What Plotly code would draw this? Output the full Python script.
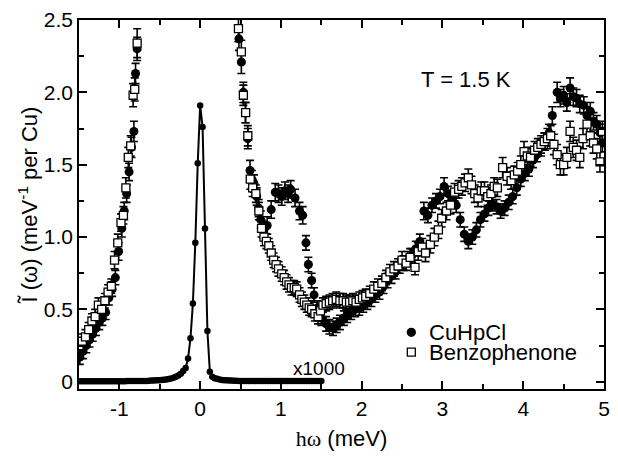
import numpy as np
import plotly.graph_objects as go

# ---- CuHpCl (filled circles) ----
cu_x = [-1.49, -1.45, -1.41, -1.37, -1.33, -1.29, -1.25, -1.21, -1.17, -1.13,
        -1.09, -1.05, -1.01, -0.97, -0.94, -0.91, -0.88, -0.85, -0.82, -0.80, -0.78,
        0.48, 0.51, 0.535, 0.56, 0.59, 0.617, 0.64, 0.666, 0.70, 0.725,
        0.75, 0.79, 0.83, 0.88, 0.93, 0.97, 1.01, 1.05, 1.09, 1.12,
        1.175, 1.23, 1.27, 1.31, 1.34, 1.38, 1.41, 1.45, 1.50, 1.56,
        1.60, 1.645, 1.69, 1.73, 1.78, 1.82, 1.87, 1.92, 1.97, 2.02,
        2.07, 2.12, 2.17, 2.22, 2.27, 2.32, 2.37, 2.42, 2.47, 2.52,
        2.57, 2.62, 2.67, 2.72, 2.77, 2.82, 2.87, 2.92, 2.97, 3.02,
        3.07, 3.12, 3.17, 3.22, 3.27, 3.32, 3.37, 3.42, 3.47, 3.52,
        3.57, 3.62, 3.67, 3.72, 3.77, 3.82, 3.87, 3.92, 3.97, 4.02,
        4.07, 4.12, 4.17, 4.22, 4.27, 4.32, 4.36, 4.42, 4.46, 4.50,
        4.54, 4.58, 4.62, 4.66, 4.70, 4.75, 4.79, 4.83, 4.87, 4.91,
        4.95, 4.98]
cu_y = [0.17, 0.21, 0.25, 0.29, 0.33, 0.37, 0.41, 0.44, 0.48, 0.58,
        0.64, 0.72, 0.90, 1.06, 1.18, 1.30, 1.45, 1.62, 1.73, 2.13, 2.30,
        2.37, 2.21, 2.00, 1.86, 1.68, 1.46, 1.40, 1.37, 1.28, 1.20,
        1.12, 1.05, 1.08, 1.19, 1.31, 1.30, 1.28, 1.32, 1.30, 1.33,
        1.27, 1.18, 1.15, 0.96, 0.81, 0.70, 0.60, 0.51, 0.44, 0.40,
        0.38, 0.37, 0.39, 0.41, 0.44, 0.46, 0.48, 0.50, 0.51, 0.53,
        0.55, 0.57, 0.60, 0.62, 0.66, 0.70, 0.73, 0.76, 0.80, 0.82,
        0.85, 0.87, 0.92, 0.97, 1.18, 1.15, 1.22, 1.25, 1.28, 1.35,
        1.30, 1.27, 1.22, 1.12, 1.02, 0.97, 1.00, 1.05, 1.12, 1.16,
        1.20, 1.23, 1.21, 1.18, 1.20, 1.24, 1.28, 1.34, 1.40, 1.44,
        1.47, 1.53, 1.57, 1.62, 1.66, 1.72, 1.84, 2.00, 1.96, 1.98,
        1.93, 2.03, 1.97, 1.96, 1.92, 1.91, 1.84, 1.87, 1.80, 1.78,
        1.72, 1.65]
cu_err = [0.05, 0.05, 0.05, 0.05, 0.05, 0.05, 0.05, 0.05, 0.05, 0.05,
          0.05, 0.05, 0.06, 0.06, 0.06, 0.06, 0.06, 0.07, 0.07, 0.07, 0.08,
          0.08, 0.08, 0.07, 0.07, 0.07, 0.07, 0.06, 0.06, 0.06, 0.06,
          0.06, 0.06, 0.06, 0.06, 0.06, 0.06, 0.06, 0.06, 0.06, 0.06,
          0.06, 0.06, 0.06, 0.05, 0.05, 0.05, 0.05, 0.05, 0.05, 0.05,
          0.05, 0.05, 0.05, 0.05, 0.05, 0.05, 0.05, 0.05, 0.05, 0.05,
          0.05, 0.05, 0.05, 0.05, 0.05, 0.05, 0.05, 0.05, 0.05, 0.05,
          0.05, 0.05, 0.05, 0.05, 0.06, 0.05, 0.05, 0.05, 0.05, 0.06,
          0.05, 0.05, 0.05, 0.05, 0.05, 0.05, 0.05, 0.05, 0.05, 0.05,
          0.05, 0.05, 0.05, 0.05, 0.05, 0.05, 0.05, 0.05, 0.05, 0.05,
          0.05, 0.05, 0.05, 0.06, 0.06, 0.06, 0.06, 0.07, 0.06, 0.06,
          0.06, 0.07, 0.06, 0.06, 0.06, 0.06, 0.06, 0.06, 0.06, 0.06,
          0.06, 0.06]

# ---- Benzophenone (open squares) ----
bz_x = [-1.50, -1.46, -1.42, -1.38, -1.34, -1.30, -1.26, -1.22, -1.18, -1.14,
        -1.10, -1.06, -1.02, -0.98, -0.95, -0.92, -0.89, -0.86, -0.83, -0.81, -0.78,
        0.474, 0.51, 0.535, 0.563, 0.59, 0.62, 0.65, 0.69, 0.727, 0.76,
        0.79, 0.82, 0.85, 0.88, 0.91, 0.94, 0.97, 1.01, 1.04, 1.07,
        1.10, 1.13, 1.165, 1.195, 1.23, 1.26, 1.29, 1.32, 1.35, 1.38,
        1.42, 1.46, 1.49, 1.52, 1.56, 1.60, 1.64, 1.685, 1.73, 1.77,
        1.81, 1.85, 1.89, 1.93, 1.97, 2.01, 2.05, 2.10, 2.15, 2.20,
        2.25, 2.30, 2.35, 2.40, 2.45, 2.50, 2.55, 2.60, 2.66, 2.70,
        2.75, 2.79, 2.85, 2.90, 2.95, 2.99, 3.05, 3.10, 3.15, 3.20,
        3.24, 3.28, 3.32, 3.36, 3.40, 3.44, 3.48, 3.52, 3.56, 3.60,
        3.64, 3.68, 3.745, 3.80, 3.85, 3.89, 3.93, 3.97, 4.01, 4.05,
        4.09, 4.14, 4.18, 4.22, 4.26, 4.30, 4.34, 4.38, 4.42, 4.46,
        4.50, 4.54, 4.58, 4.62, 4.66, 4.70, 4.74, 4.79, 4.83, 4.87,
        4.91, 4.95, 4.98]
bz_y = [0.25, 0.28, 0.31, 0.36, 0.42, 0.45, 0.53, 0.50, 0.56, 0.62,
        0.66, 0.84, 0.96, 1.10, 1.15, 1.34, 1.55, 1.63, 1.98, 2.02, 2.34,
        2.44, 2.28, 1.98, 1.86, 1.70, 1.40, 1.34, 1.30, 1.18, 1.06,
        1.00, 0.97, 0.94, 0.89, 0.84, 0.81, 0.78, 0.745, 0.72, 0.69,
        0.67, 0.65, 0.65, 0.64, 0.60, 0.57, 0.55, 0.53, 0.51, 0.50,
        0.47, 0.45, 0.49, 0.53, 0.54, 0.55, 0.56, 0.57, 0.56, 0.56,
        0.55, 0.55, 0.56, 0.55, 0.57, 0.58, 0.59, 0.61, 0.64, 0.66,
        0.68, 0.72, 0.76, 0.78, 0.80, 0.84, 0.82, 0.86, 0.79, 0.90,
        0.93, 0.89, 0.95, 1.00, 1.05, 1.13, 1.18, 1.22, 1.31, 1.33,
        1.35, 1.375, 1.41, 1.36, 1.30, 1.27, 1.32, 1.32, 1.28, 1.30,
        1.35, 1.34, 1.48, 1.42, 1.39, 1.43, 1.455, 1.50, 1.59, 1.56,
        1.55, 1.60, 1.62, 1.64, 1.66, 1.68, 1.70, 1.64, 1.57, 1.50,
        1.50, 1.55, 1.73, 1.62, 1.60, 1.55, 1.68, 1.78, 1.70, 1.65,
        1.61, 1.52, 1.73]
bz_err = [0.05, 0.05, 0.05, 0.05, 0.05, 0.05, 0.05, 0.05, 0.05, 0.05,
          0.05, 0.06, 0.06, 0.06, 0.06, 0.07, 0.07, 0.07, 0.08, 0.08, 0.10,
          0.09, 0.08, 0.07, 0.07, 0.07, 0.07, 0.06, 0.06, 0.06, 0.06,
          0.06, 0.05, 0.05, 0.05, 0.05, 0.05, 0.05, 0.05, 0.05, 0.05,
          0.05, 0.05, 0.05, 0.05, 0.05, 0.05, 0.05, 0.05, 0.05, 0.05,
          0.05, 0.05, 0.05, 0.05, 0.05, 0.05, 0.05, 0.05, 0.05, 0.05,
          0.05, 0.05, 0.05, 0.05, 0.05, 0.05, 0.05, 0.05, 0.05, 0.05,
          0.05, 0.05, 0.05, 0.05, 0.05, 0.06, 0.05, 0.06, 0.05, 0.06,
          0.06, 0.06, 0.06, 0.06, 0.06, 0.06, 0.06, 0.06, 0.06, 0.06,
          0.06, 0.06, 0.06, 0.06, 0.06, 0.06, 0.06, 0.06, 0.06, 0.06,
          0.06, 0.06, 0.07, 0.06, 0.06, 0.06, 0.06, 0.06, 0.07, 0.06,
          0.06, 0.06, 0.06, 0.06, 0.06, 0.07, 0.07, 0.07, 0.07, 0.07,
          0.07, 0.07, 0.07, 0.07, 0.07, 0.07, 0.07, 0.07, 0.07, 0.07,
          0.07, 0.07, 0.07]

# ---- elastic resolution line (scaled x1000), energy grid step 0.03 meV ----
res_x = np.round(np.arange(-1.5, 1.5001, 0.03), 2)
res_y = [0.004, 0.004, 0.004, 0.004, 0.004, 0.004, 0.004, 0.004, 0.004, 0.004,
         0.004, 0.004, 0.004, 0.004, 0.004, 0.004, 0.004, 0.004, 0.004, 0.004,
         0.005, 0.005, 0.005, 0.005, 0.005, 0.005, 0.005, 0.005, 0.006, 0.007,
         0.008, 0.009, 0.010, 0.011, 0.012, 0.014, 0.016, 0.019, 0.023, 0.028,
         0.034, 0.043, 0.056, 0.075, 0.095, 0.16, 0.30, 0.54, 0.96, 1.51,
         1.91, 1.76, 1.06, 0.35, 0.07, 0.035, 0.025, 0.020, 0.016, 0.013,
         0.011, 0.010, 0.009, 0.008, 0.007, 0.007, 0.006, 0.005, 0.005, 0.005,
         0.005, 0.005, 0.005, 0.005, 0.005, 0.005, 0.005, 0.005, 0.005, 0.005,
         0.005, 0.005, 0.005, 0.005, 0.005, 0.005, 0.005, 0.005, 0.005, 0.005,
         0.005, 0.005, 0.005, 0.005, 0.005, 0.005, 0.005, 0.005, 0.005, 0.005,
         0.005]

x_ticks = [-1, 0, 1, 2, 3, 4, 5]
y_ticks = [0, 0.5, 1.0, 1.5, 2.0, 2.5]
y_tick_text = ["0", "0.5", "1.0", "1.5", "2.0", "2.5"]

assert len(cu_x) == len(cu_y) == len(cu_err)
assert len(bz_x) == len(bz_y) == len(bz_err)
assert len(res_x) == len(res_y)

FONT = "Liberation Sans, Arial, Helvetica, sans-serif"
TXT = dict(family=FONT, size=22, color="black")

fig = go.Figure()

fig.add_trace(go.Scatter(
    x=res_x, y=res_y, mode="lines+markers",
    line=dict(color="black", width=2),
    marker=dict(color="black", size=6.5),
    showlegend=False, hoverinfo="skip"))

fig.add_trace(go.Scatter(
    x=cu_x, y=cu_y, mode="markers", name="CuHpCl", showlegend=False,
    marker=dict(symbol="circle", color="black", size=9),
    error_y=dict(type="data", array=cu_err, color="black", thickness=1.6, width=4)))

fig.add_trace(go.Scatter(
    x=bz_x, y=bz_y, mode="markers", name="Benzophenone", showlegend=False,
    marker=dict(symbol="square", color="white", size=8,
                line=dict(color="black", width=1.3)),
    error_y=dict(type="data", array=bz_err, color="black", thickness=1.6, width=4)))

axis_common = dict(
    showline=True, linecolor="black", linewidth=1.5, mirror="ticks",
    ticks="inside", ticklen=8, tickwidth=1.5, tickcolor="black",
    showgrid=False, zeroline=False,
    tickfont=dict(family=FONT, size=21, color="black"),
)

fig.update_xaxes(
    range=[-1.5, 5], tickvals=x_ticks,
    ticktext=[str(v) for v in x_ticks],
    minor=dict(dtick=0.5, ticks="inside", ticklen=5, tickwidth=1.5, tickcolor="black"),
    title=dict(text="<span style='font-family:Liberation Serif'>hω</span> (meV)",
               font=TXT, standoff=12),
    **axis_common)

fig.update_yaxes(
    range=[-0.05, 2.5], tickvals=y_ticks, ticktext=y_tick_text,
    minor=dict(dtick=0.25, tick0=0, ticks="inside", ticklen=5, tickwidth=1.5, tickcolor="black"),
    title=dict(text="Ĩ (ω) (meV<sup>-1</sup> per Cu)", font=TXT, standoff=0),
    **axis_common)

fig.add_annotation(x=3.29, y=2.09, text="T = 1.5 K", showarrow=False, font=TXT)
fig.add_annotation(x=1.47, y=0.094, text="x1000", showarrow=False,
                   font=dict(family=FONT, size=19, color="black"))

# legend keys and labels
leg_x = 0.633          # key centre, paper fraction
leg_rows = [(0.1536, "CuHpCl", "circle"), (0.0997, "Benzophenone", "square")]
for ly, label, kind in leg_rows:
    fig.add_shape(type="circle" if kind == "circle" else "rect",
                  xref="paper", yref="paper", xsizemode="pixel", ysizemode="pixel",
                  xanchor=leg_x, yanchor=ly, x0=-4, x1=4, y0=-4, y1=4,
                  line=dict(color="black", width=1.3),
                  fillcolor="black" if kind == "circle" else "white")
    fig.add_annotation(xref="paper", yref="paper", x=leg_x + 0.029, y=ly,
                       xanchor="left", yanchor="middle", text=label,
                       showarrow=False, font=TXT)

fig.update_layout(
    width=618, height=456,
    margin=dict(l=79, r=8, t=18, b=67),
    paper_bgcolor="white", plot_bgcolor="white",
    showlegend=False,
)

fig.write_html("out.html")
